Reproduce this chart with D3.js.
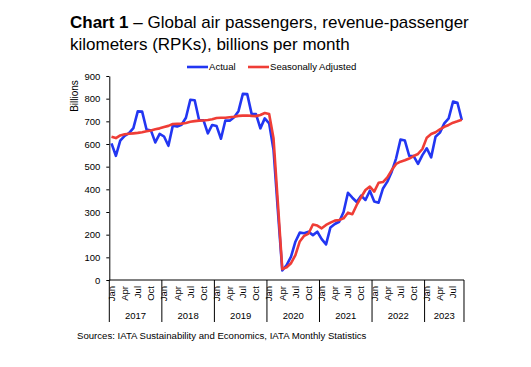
<!DOCTYPE html>
<html lang="en">
  <head>
    <meta charset="UTF-8" />
    <title>Global air passengers RPKs</title>
    <style>
      body {
        margin: 0;
        background: #fff;
        font-family: "Liberation Sans", Arial, Helvetica, sans-serif;
        color: #000;
      }

      .axis text {
        font-size: 9.5px;
        fill: #000;
      }

      .axis path,
      .axis line {
        stroke: #000;
      }

      .line {
        fill: none;
        stroke-width: 2.6px;
        stroke-linejoin: round;
      }
    </style>
  </head>
  <body>
    <svg width="531" height="367"></svg>
  </body>
  <script src="https://cdn.jsdelivr.net/npm/d3@7"></script>
  <script>
    let years = ["2017", "2018", "2019", "2020", "2021", "2022", "2023"];
    let monthNames = ["Jan", "Feb", "Mar", "Apr", "May", "Jun", "Jul", "Aug", "Sep", "Oct", "Nov", "Dec"];
    let shownMonths = ["Jan", "Apr", "Jul", "Oct"];
    let yTicks = [0, 100, 200, 300, 400, 500, 600, 700, 800, 900];

    // Jan 2017 .. Sep 2023, billions of RPKs
    let actual = [
      603, 548, 615, 636, 648, 670, 744, 743, 664, 660, 607, 645,
      633, 592, 681, 677, 685, 716, 795, 793, 706, 705, 647, 684,
      679, 623, 704, 703, 718, 745, 821, 820, 733, 732, 669, 713,
      691, 575, 305, 42, 66, 103, 169, 209, 206, 213, 198, 213,
      180, 157, 232, 247, 257, 300, 385, 363, 344, 372, 353, 394,
      346, 341, 404, 434, 478, 537, 620, 615, 547, 547, 512, 551,
      581, 541, 632, 650, 691, 713, 787, 782, 706,
    ];
    let adjusted = [
      632, 626, 638, 643, 645, 647, 649, 652, 656, 660, 665, 669,
      675, 680, 688, 689, 690, 693, 698, 701, 703, 704, 706, 709,
      715, 716, 716, 718, 720, 724, 725, 726, 724, 723, 728, 737,
      732, 625, 338, 48, 56, 74, 110, 170, 195, 205, 245, 240,
      228, 243, 253, 262, 265, 272, 297, 290, 331, 365, 397, 412,
      390, 429, 432, 453, 485, 512, 522, 528, 536, 547, 556, 578,
      628, 644, 652, 665, 676, 684, 694, 700, 707,
    ];

    let months = actual.map((_, i) => ({
      year: years[Math.floor(i / 12)],
      month: monthNames[i % 12],
      i: i,
    }));

    let svg = d3.select("svg");
    let plotLeft = 109.3,
      plotTop = 76,
      plotBottom = 280;

    let x = d3
      .scaleBand()
      .domain(months.map((d) => d.i))
      .range([plotLeft, plotLeft + months.length * 4.379])
      .padding(0);
    let y = d3.scaleLinear().domain([0, 900]).range([plotBottom, plotTop]);
    let cx = (i) => x(i) + x.bandwidth() / 2;

    // title
    let title = svg.append("text").attr("x", 70).attr("font-size", "17px");
    title
      .append("tspan")
      .attr("x", 70)
      .attr("y", 28)
      .attr("font-weight", "bold")
      .text("Chart 1");
    title.append("tspan").text(" – Global air passengers, revenue-passenger");
    title
      .append("tspan")
      .attr("x", 70)
      .attr("y", 49.5)
      .text("kilometers (RPKs), billions per month");

    // y axis
    svg
      .append("g")
      .attr("class", "axis")
      .attr("transform", `translate(${plotLeft},0)`)
      .call(d3.axisLeft(y).tickValues(yTicks).tickSize(3).tickSizeOuter(0).tickPadding(6));

    svg
      .append("text")
      .attr("transform", "translate(78,96) rotate(-90)")
      .attr("text-anchor", "middle")
      .attr("font-size", "10px")
      .text("Billions");

    // x axis: month labels, year boxes
    let xAxis = svg.append("g").attr("class", "axis");
    xAxis
      .append("line")
      .attr("x1", plotLeft)
      .attr("x2", x.range()[1])
      .attr("y1", plotBottom)
      .attr("y2", plotBottom);

    xAxis
      .selectAll("text.month")
      .data(months.filter((d) => shownMonths.includes(d.month)))
      .join("text")
      .attr("class", "month")
      .attr("text-anchor", "end")
      .attr("transform", (d) => `translate(${cx(d.i)},286) rotate(-90)`)
      .attr("dy", "0.35em")
      .text((d) => d.month);

    let edges = years.map((yr, k) => k * 12).concat([months.length]);
    let edgeX = (i) => (i < months.length ? x(i) : x.range()[1]);
    xAxis
      .selectAll("line.sep")
      .data(edges)
      .join("line")
      .attr("class", "sep")
      .attr("x1", edgeX)
      .attr("x2", edgeX)
      .attr("y1", plotBottom)
      .attr("y2", 322);

    xAxis
      .selectAll("text.year")
      .data(years)
      .join("text")
      .attr("class", "year")
      .attr("text-anchor", "middle")
      .attr("font-size", "10px")
      .attr("x", (yr, k) => (edgeX(edges[k]) + edgeX(edges[k + 1])) / 2)
      .attr("y", 318.5)
      .text((yr) => yr);

    // lines
    let series = [
      { name: "Actual", values: actual, color: "#2236f2" },
      { name: "Seasonally Adjusted", values: adjusted, color: "#ef3d36" },
    ];
    let line = d3
      .line()
      .x((_, i) => cx(i))
      .y((d) => y(d));

    svg
      .append("g")
      .selectAll("path")
      .data(series)
      .join("path")
      .attr("class", "line")
      .attr("stroke", (d) => d.color)
      .attr("d", (d) => line(d.values));

    // legend
    let legend = svg
      .append("g")
      .selectAll("g")
      .data(series)
      .join("g")
      .attr("transform", (_, k) => `translate(${[187, 248][k]},67)`);
    legend
      .append("line")
      .attr("x2", 21)
      .attr("stroke", (d) => d.color)
      .attr("stroke-width", 2.6);
    legend
      .append("text")
      .attr("x", 22)
      .attr("dy", "0.35em")
      .attr("font-size", "9.6px")
      .text((d) => d.name);

    svg
      .append("text")
      .attr("x", 77)
      .attr("y", 338.5)
      .attr("font-size", "9.6px")
      .text("Sources: IATA Sustainability and Economics, IATA Monthly Statistics");
  </script>
</html>
